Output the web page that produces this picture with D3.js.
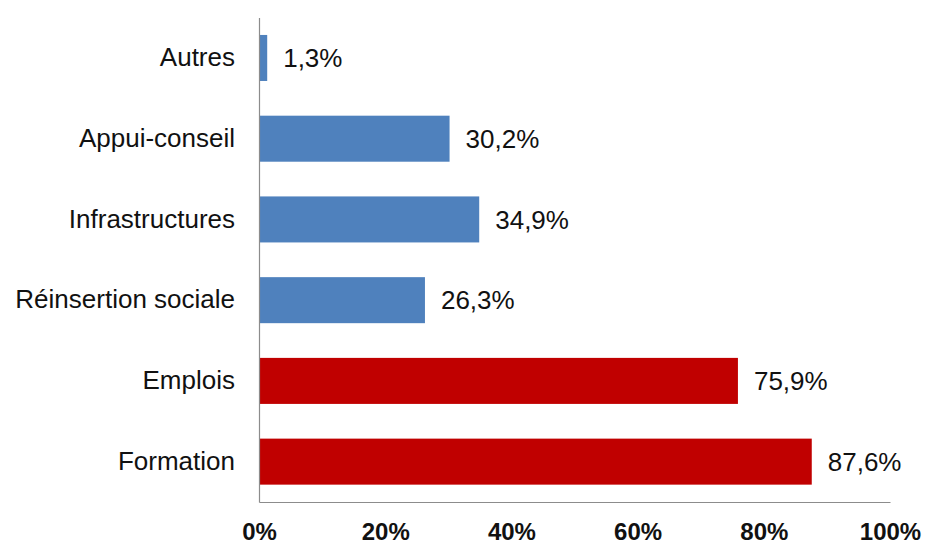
<!DOCTYPE html>
<html>
<head>
<meta charset="utf-8">
<script src="https://cdn.jsdelivr.net/npm/d3@7"></script>
<style>
  html, body { margin: 0; padding: 0; background: #fff; }
  svg { display: block; font-family: Arial, "Liberation Sans", sans-serif; }
</style>
</head>
<body>
<svg id="chart" width="925" height="544"></svg>
<script>
// Categories top to bottom, their shares (%) and the bar colour group
const categories = ["Autres", "Appui-conseil", "Infrastructures", "Réinsertion sociale", "Emplois", "Formation"];
const values = [1.3, 30.2, 34.9, 26.3, 75.9, 87.6];
const groups = ["autre", "autre", "autre", "autre", "cle", "cle"];
const xTicks = [0, 20, 40, 60, 80, 100];

const colors = { autre: "#4F81BD", cle: "#C00000" };
const fmt = v => v.toFixed(1).replace(".", ",") + "%";

const svg = d3.select("#chart");
const plot = { left: 259, right: 890, top: 17.6, bottom: 502 };

const x = d3.scaleLinear().domain([0, 100]).range([plot.left, plot.right]);
const y = d3.scaleBand().domain(categories).range([plot.top, plot.bottom]).paddingInner(0.43).paddingOuter(0.215);

// Bars
svg.append("g").selectAll("rect")
  .data(categories)
  .join("rect")
  .attr("x", x(0))
  .attr("y", d => y(d))
  .attr("width", (d, i) => x(values[i]) - x(0))
  .attr("height", y.bandwidth())
  .attr("fill", (d, i) => colors[groups[i]]);

// Value labels
svg.append("g").selectAll("text")
  .data(categories)
  .join("text")
  .attr("x", (d, i) => x(values[i]) + 16)
  .attr("y", d => y(d) + y.bandwidth() / 2)
  .attr("dy", "0.35em")
  .attr("font-size", 26)
  .attr("fill", "#111")
  .text((d, i) => fmt(values[i]));

// Category axis
const yAxis = svg.append("g")
  .attr("transform", `translate(${plot.left},0)`)
  .call(d3.axisLeft(y).tickSize(0).tickSizeOuter(0).tickPadding(24));
yAxis.select(".domain").attr("stroke", "#8c8c8c").attr("stroke-width", 1.2);
yAxis.selectAll("text").attr("font-size", 26).attr("fill", "#111").attr("font-family", null);

// Percentage axis
const xAxis = svg.append("g")
  .attr("transform", `translate(0,${plot.bottom})`)
  .call(d3.axisBottom(x).tickValues(xTicks).tickSize(0).tickSizeOuter(0).tickFormat(d => d + "%"));
xAxis.select(".domain").attr("stroke", "#8c8c8c").attr("stroke-width", 1.2);
xAxis.selectAll("text")
  .attr("y", 38).attr("dy", 0)
  .attr("font-size", 24).attr("font-weight", "bold").attr("fill", "#111").attr("font-family", null);
</script>
</body>
</html>
